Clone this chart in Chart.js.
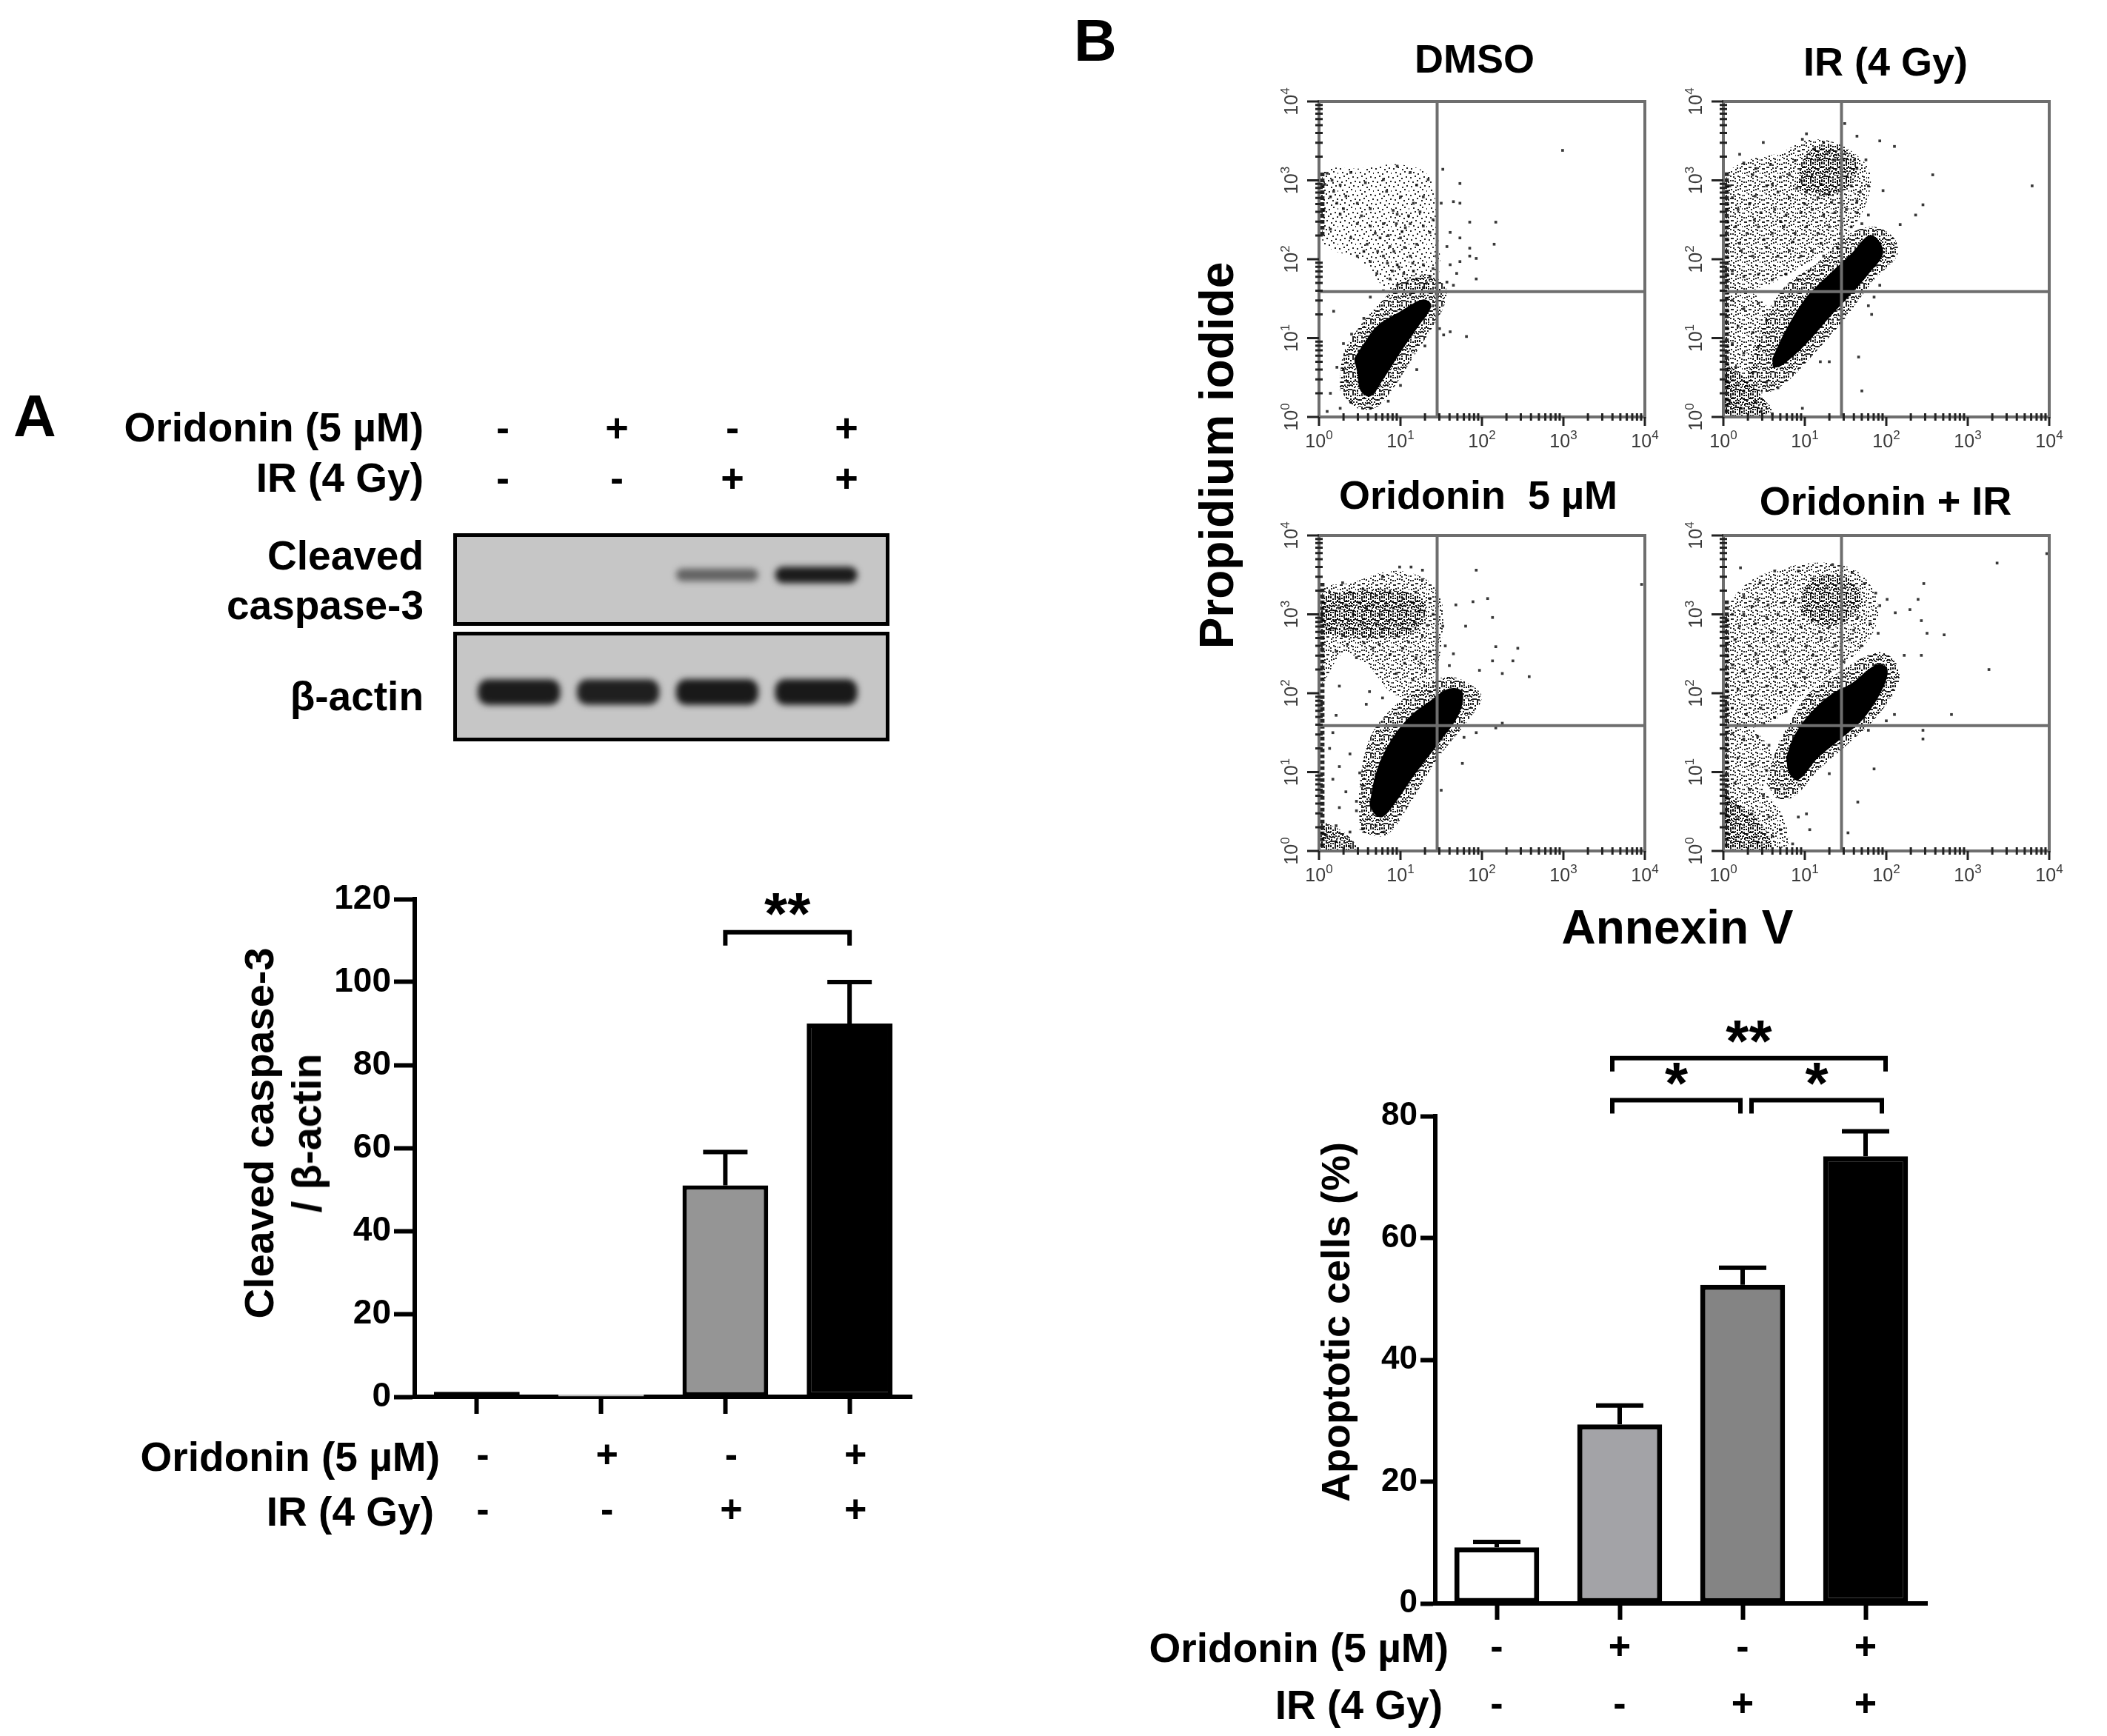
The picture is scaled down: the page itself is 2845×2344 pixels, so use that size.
<!DOCTYPE html>
<html>
<head>
<meta charset="utf-8">
<script src="https://cdn.jsdelivr.net/npm/chart.js@4.4.0/dist/chart.umd.min.js"></script>
<style>
html, body { margin: 0; padding: 0; background: #fff; }
#page { position: relative; width: 2845px; height: 2344px; overflow: hidden;
        font-family: "Liberation Sans", Arial, sans-serif; font-weight: bold; color: #000; }
.t { position: absolute; white-space: pre; line-height: 1; }
canvas { position: absolute; }
</style>
</head>
<body>
<div id="page"></div>
<script>
// ---------- data: panel A ----------
const treatments = ['DMSO', 'Oridonin', 'IR', 'Oridonin + IR'];
const oridoninSigns = ['-', '+', '-', '+'];
const irSigns = ['-', '-', '+', '+'];
const caspaseRatio = [1.2, 0.6, 51, 90];
const caspaseSem = [0, 0, 8, 10];
const caspaseTicks = [0, 20, 40, 60, 80, 100, 120];
const caspaseSig = [{ from: 2, to: 3, at: 112, mark: '**' }];
const caspaseBand = [0, 0, 0.55, 0.95];
const actinBand = [0.95, 0.93, 0.96, 0.96];

// ---------- data: panel B ----------
const apoptoticPct = [9.2, 29.4, 52.3, 73.4];
const apoptoticSem = [0.9, 3.1, 2.8, 4.1];
const apoptoticTicks = [0, 20, 40, 60, 80];
const apoptoticSig = [
  { from: 1, to: 3, at: 89.5, mark: '**' },
  { from: 1, to: 2, at: 82.6, mark: '*' },
  { from: 2, to: 3, at: 82.6, mark: '*' }
];

// flow plots, values in log10 decades (Annexin V, PI)
const flowDecades = [0, 1, 2, 3, 4];
const gateAnnexin = 1.45;
const gatePI = 1.59;

const dmsoCore = [[0.43,0.74],[0.47,0.56],[0.51,0.33],[0.63,0.26],[0.79,0.48],[1.0,0.82],[1.2,1.12],[1.38,1.41],[1.28,1.49],[1.0,1.34],[0.71,1.15],[0.55,0.93]];
const dmsoHalo = [[0.25,0.35],[0.3,0.8],[0.5,1.15],[0.8,1.5],[1.05,1.75],[1.35,1.8],[1.55,1.65],[1.55,1.45],[1.4,1.15],[1.15,0.75],[0.9,0.35],[0.7,0.12],[0.45,0.12]];
const dmsoCloud = [[0.04,2.2],[0.05,3.1],[0.5,3.15],[1.0,3.2],[1.35,3.05],[1.45,2.4],[1.45,1.75],[1.1,1.55],[0.8,1.65],[0.5,2.0],[0.2,2.1]];
const dmsoStrip = [[0.04,2.3],[0.04,3.1]];
const dmsoDots = [[0.10,3.09],[0.16,3.00],[0.26,2.94],[0.39,3.10],[0.14,2.79],[0.22,2.71],[0.30,2.64],[0.47,2.71],[0.57,2.97],[0.79,3.01],[0.96,3.18],[1.12,3.10],[1.20,2.94],[1.34,3.01],[0.83,2.86],[1.00,2.79],[1.16,2.71],[1.28,2.79],[0.63,2.64],[0.26,2.57],[0.47,2.45],[0.63,2.42],[0.79,2.45],[0.96,2.57],[1.12,2.45],[1.28,2.42],[0.14,2.38],[0.39,2.27],[0.59,2.19],[0.75,2.27],[0.87,2.16],[1.00,2.27],[1.20,2.19],[1.36,2.34],[0.47,2.04],[0.63,1.97],[0.79,2.04],[0.96,1.93],[1.12,2.04],[1.28,1.93],[1.44,2.04],[0.71,1.82],[0.87,1.75],[1.04,1.82],[1.20,1.75],[1.36,1.78],[0.79,1.60],[0.96,1.67],[1.12,1.56],[1.28,1.64],[1.44,1.56],[0.63,1.52],[0.18,1.34],[0.30,0.93],[0.22,0.63],[0.14,0.30],[0.26,0.11],[0.10,0.07],[0.39,0.19],[0.63,0.11],
  [1.52,3.14],[1.73,2.96],[1.50,2.71],[1.65,2.73],[1.73,2.71],[1.85,2.47],[2.17,2.47],[1.61,2.34],[1.73,2.27],[1.85,2.14],[2.15,2.19],[1.57,2.16],[1.61,1.93],[1.73,1.97],[1.85,2.04],[1.93,2.01],[1.93,1.75],[1.69,1.82],[1.57,1.71],[1.65,1.67],[2.99,3.38],[1.81,1.02],[1.61,1.08],[1.48,1.12],[1.53,1.04],
  [0.92,2.10],[1.05,2.15],[0.98,1.90],[1.08,1.70],[0.90,1.85],[1.02,2.35],[0.85,2.30],[1.15,1.95],[0.95,2.45],[1.10,2.55],[0.35,0.45],[0.30,0.60],[0.40,1.05],[0.55,1.25],[1.30,0.90],[1.20,0.60],[1.00,0.40],[0.85,0.20],
  [0.07,2.95],[0.06,2.62],[0.18,2.86],[0.33,2.80],[0.52,2.55],[0.69,2.33],[0.91,2.62],[1.06,2.40],[1.24,2.60],[1.40,2.50],[0.55,2.10],[0.72,2.10],[0.84,1.95],[1.16,1.85],[1.32,1.70],[1.40,1.88]];

const irCore = [[0.60,0.74],[0.77,1.11],[1.02,1.52],[1.30,1.81],[1.57,2.07],[1.78,2.30],[1.89,2.26],[1.96,2.07],[1.78,1.81],[1.57,1.56],[1.30,1.26],[1.02,0.93],[0.74,0.67],[0.62,0.63]];
const irHalo = [[0.25,0.37],[0.36,0.74],[0.53,1.30],[0.77,1.67],[1.16,1.96],[1.51,2.30],[1.85,2.41],[2.10,2.26],[2.13,2.04],[1.85,1.74],[1.47,1.22],[1.12,0.81],[0.77,0.44],[0.49,0.30]];
const irCloud = [[0.04,1.65],[0.04,3.05],[0.3,3.25],[0.7,3.35],[1.0,3.5],[1.3,3.5],[1.6,3.35],[1.8,3.1],[1.75,2.7],[1.5,2.3],[1.1,2.0],[0.7,1.75],[0.3,1.6]];
const irLowCloud = [[0.04,0.02],[0.04,1.6],[0.3,1.6],[0.55,1.35],[0.45,0.8],[0.35,0.4],[0.6,0.1],[0.5,0.02]];
const irDense = [[0.9,2.9],[1.0,3.3],[1.3,3.45],[1.6,3.3],[1.6,3.0],[1.3,2.8]];
const irCorner = [[0.02,0.02],[0.02,0.65],[0.2,0.55],[0.4,0.35],[0.55,0.12],[0.5,0.02]];
const irStrip = [[0.04,0.05],[0.04,3.1]];
const irDots = [[1.02,3.59],[0.97,3.52],[1.23,3.48],[1.30,3.37],[1.47,3.26],[1.37,3.26],[1.16,3.26],[0.70,3.04],[0.81,3.07],[0.95,3.00],[1.09,3.07],[1.30,3.15],[1.44,3.15],[1.61,3.26],[1.64,3.15],[1.75,3.26],[0.20,3.33],[0.25,3.22],[0.36,3.07],[0.49,3.48],[0.53,2.93],[0.67,2.85],[0.81,2.78],[1.02,2.85],[1.16,2.78],[1.30,2.85],[1.44,2.89],[1.57,2.93],[0.08,2.93],[0.11,2.78],[0.18,2.63],[0.32,2.70],[0.46,2.59],[0.63,2.63],[0.77,2.56],[0.95,2.59],[1.09,2.63],[1.23,2.56],[1.37,2.59],[1.51,2.63],[1.64,2.59],[1.78,2.56],[0.15,2.41],[0.29,2.33],[0.43,2.41],[0.60,2.33],[0.74,2.41],[0.88,2.33],[1.02,2.41],[1.16,2.33],[1.30,2.41],[1.44,2.33],[1.57,2.41],[0.22,2.11],[0.36,2.04],[0.53,2.15],[0.67,2.04],[0.81,2.11],[0.95,2.04],[1.09,2.11],[1.23,2.04],[0.11,1.85],[0.25,1.78],[0.43,1.81],[0.60,1.74],[0.77,1.81],[0.91,1.74],[1.05,1.85],
  [0.11,1.48],[0.25,1.37],[0.43,1.44],[0.18,1.15],[0.36,1.07],[0.53,1.22],[0.11,0.93],[0.25,0.81],[0.43,0.89],[0.15,0.63],[0.36,0.56],[0.53,0.44],[0.67,0.37],[0.25,0.33],[0.08,0.19],[0.22,0.11],[0.39,0.19],[0.46,0.07],[0.60,0.04],
  [1.49,3.72],[1.64,3.56],[1.92,3.50],[2.10,3.43],[2.57,3.07],[3.79,2.93],[2.45,2.69],[2.36,2.56],[2.17,2.44],[1.96,2.87],[1.78,2.93],[1.64,2.74],[1.92,1.67],[1.85,1.52],[1.82,1.30],[1.78,1.41],[1.66,0.76],[1.70,0.33],[1.30,0.70],[1.19,0.70],[0.97,0.11],
  [0.40,3.15],[0.58,3.20],[0.88,3.25],[1.12,3.40],[1.52,3.05],[0.39,2.80],[0.60,2.95],[0.90,2.90],[1.20,2.95],[1.68,2.85],[0.38,2.50],[0.70,2.48],[1.00,2.70],[1.33,2.72],[1.70,2.45],[0.20,2.20],[0.50,2.25],[0.85,2.22],[1.20,2.20],[1.40,2.15]];

const oriCore = [[0.62,0.59],[0.70,0.99],[0.87,1.38],[1.11,1.70],[1.36,1.90],[1.60,2.06],[1.76,2.02],[1.72,1.74],[1.48,1.38],[1.19,0.99],[0.95,0.63],[0.78,0.43],[0.68,0.47]];
const oriHalo = [[0.50,0.24],[0.50,0.83],[0.62,1.42],[0.87,1.78],[1.27,2.09],[1.60,2.21],[1.89,2.09],[2.0,1.94],[1.8,1.62],[1.44,1.15],[1.11,0.59],[0.82,0.20]];
const oriCloud = [[0.04,2.1],[0.04,3.3],[0.4,3.4],[0.9,3.55],[1.3,3.45],[1.5,3.2],[1.5,2.6],[1.4,2.2],[1.2,1.95],[0.9,2.0],[0.6,2.35],[0.3,2.5]];
const oriDense = [[0.05,2.75],[0.05,3.2],[0.5,3.3],[1.0,3.3],[1.3,3.15],[1.2,2.8],[0.7,2.7]];
const oriCorner = [[0.02,0.02],[0.02,0.35],[0.2,0.3],[0.4,0.15],[0.45,0.02]];
const oriStrip = [[0.04,0.05],[0.04,3.4]];
const oriDots = [[0.13,3.28],[0.25,3.20],[0.38,3.28],[0.54,3.32],[0.70,3.24],[0.87,3.28],[1.03,3.20],[1.19,3.28],[1.36,3.20],[0.09,3.04],[0.25,3.08],[0.42,3.00],[0.58,3.08],[0.74,3.00],[0.91,3.08],[1.07,3.00],[1.23,3.04],[1.40,3.00],[0.13,2.81],[0.29,2.73],[0.46,2.81],[0.62,2.73],[0.78,2.81],[0.95,2.73],[1.11,2.81],[1.27,2.73],[0.21,2.53],[0.46,2.45],[0.66,2.57],[0.87,2.49],[1.03,2.57],[1.19,2.45],[1.36,2.53],[0.95,2.25],[1.15,2.17],[1.31,2.29],[1.44,2.41],[0.99,3.60],[1.13,3.60],[1.27,3.44],[0.78,3.48],[0.29,3.40],[0.62,2.02],[0.25,2.09],[0.21,1.72],[0.58,1.86],[0.78,1.94],[1.36,2.02],
  [0.17,1.50],[0.13,1.30],[0.25,1.07],[0.38,1.23],[0.17,0.91],[0.33,0.75],[0.50,0.99],[0.25,0.55],[0.46,0.51],[0.21,0.32],[0.38,0.24],[0.54,0.28],[0.70,0.32],[0.80,0.24],[0.09,0.20],[0.21,0.12],[0.38,0.06],[0.46,0.63],[0.54,0.83],
  [1.93,3.56],[1.27,3.56],[2.07,3.20],[2.13,2.96],[1.89,3.16],[1.68,3.12],[1.80,2.85],[2.17,2.59],[2.44,2.57],[2.38,2.41],[2.25,2.25],[2.58,2.21],[2.13,2.41],[1.97,2.29],[2.25,1.62],[2.17,1.56],[1.93,1.50],[1.78,1.44],[1.76,1.11],[1.50,0.77],[3.96,3.38],[1.55,2.60],[1.60,2.35],[1.52,2.85],[1.65,2.50],
  [0.33,3.12],[0.50,3.15],[0.66,3.12],[0.82,3.14],[1.00,3.12],[1.15,3.15],[0.20,2.92],[0.36,2.92],[0.54,2.90],[0.70,2.88],[0.86,2.92],[1.02,2.88],[1.18,2.90],[1.33,2.86],[0.35,2.62],[0.55,2.64],[0.74,2.62],[1.10,2.65],[1.25,2.38],[1.05,2.38]];

const oirCore = [[0.77,1.18],[0.85,1.42],[1.02,1.69],[1.30,1.97],[1.58,2.13],[1.87,2.36],[2.01,2.32],[1.97,2.09],[1.73,1.69],[1.44,1.42],[1.16,1.18],[0.92,0.90],[0.81,0.98]];
const oirHalo = [[0.53,0.86],[0.67,1.34],[0.85,1.69],[1.02,1.97],[1.44,2.28],[1.90,2.52],[2.11,2.40],[2.15,2.13],[1.87,1.69],[1.51,1.34],[1.16,1.02],[0.88,0.70],[0.67,0.66]];
const oirCloud = [[0.04,1.6],[0.04,3.0],[0.3,3.4],[0.8,3.6],[1.3,3.65],[1.7,3.5],[1.9,3.1],[1.8,2.7],[1.4,2.3],[1.0,2.0],[0.7,1.7],[0.3,1.55]];
const oirLowCloud = [[0.04,0.02],[0.04,1.6],[0.35,1.55],[0.6,1.2],[0.5,0.8],[0.7,0.5],[0.8,0.1],[0.6,0.02]];
const oirDense = [[0.95,3.0],[1.0,3.35],[1.25,3.5],[1.55,3.45],[1.7,3.2],[1.55,2.95],[1.25,2.85]];
const oirCorner = [[0.02,0.02],[0.02,0.7],[0.25,0.55],[0.5,0.3],[0.6,0.05],[0.55,0.02]];
const oirStrip = [[0.04,0.05],[0.04,3.2]];
const oirDots = [[0.21,3.59],[0.63,3.55],[0.92,3.55],[1.34,3.63],[1.58,3.53],[1.73,3.39],[1.87,3.27],[0.25,3.23],[0.42,3.19],[0.60,3.31],[0.74,3.15],[0.11,3.00],[0.25,3.00],[0.39,2.88],[0.53,2.96],[0.67,3.00],[0.81,2.92],[0.95,2.84],[1.09,2.92],[1.30,2.84],[1.48,2.92],[1.65,2.96],[1.80,2.88],[1.90,2.76],[0.14,2.68],[0.32,2.60],[0.49,2.68],[0.67,2.60],[0.85,2.68],[1.02,2.60],[1.20,2.68],[1.37,2.60],[1.55,2.68],[1.69,2.60],[0.11,2.36],[0.25,2.28],[0.42,2.40],[0.60,2.32],[0.77,2.40],[0.95,2.28],[1.13,2.36],[1.30,2.28],[1.48,2.40],[0.18,2.05],[0.35,1.97],[0.53,2.09],[0.70,2.01],[0.88,2.09],[1.06,1.97],[0.11,1.81],[0.28,1.73],[0.46,1.81],[0.63,1.69],[0.77,1.77],
  [0.11,1.49],[0.25,1.42],[0.42,1.45],[0.56,1.34],[0.18,1.18],[0.35,1.10],[0.53,1.02],[0.14,0.86],[0.32,0.78],[0.49,0.70],[0.67,0.78],[0.18,0.55],[0.35,0.47],[0.56,0.43],[0.70,0.27],[0.60,0.19],[0.42,0.11],[0.92,0.43],[1.02,0.47],[1.06,0.27],[0.85,0.09],
  [3.36,3.65],[3.97,3.77],[2.46,3.39],[2.39,3.19],[2.71,2.74],[2.50,2.76],[2.43,2.92],[2.29,3.06],[2.11,3.02],[1.92,3.11],[2.01,3.19],[2.43,2.48],[2.22,2.48],[3.26,2.30],[2.80,1.73],[2.10,1.73],[2.00,1.65],[2.45,1.53],[2.45,1.42],[1.78,1.53],[1.85,1.04],[1.65,0.62],[1.53,0.23],[1.30,0.98],
  [0.45,3.40],[0.78,3.40],[1.10,3.45],[0.35,3.10],[0.55,3.12],[0.88,3.18],[0.20,2.85],[0.60,2.78],[1.18,2.78],[1.60,2.80],[0.40,2.50],[0.75,2.52],[1.10,2.48],[1.45,2.55],[0.30,2.15],[0.65,2.20],[1.00,2.20],[0.20,1.60],[0.50,1.60]];

// ---------- helpers ----------
Chart.defaults.font.family = '"Liberation Sans", Arial, sans-serif';
Chart.defaults.color = '#000';
const FONT = '"Liberation Sans", Arial, sans-serif';
const page = document.getElementById('page');

function txt(s, x, y, size, how) {
  const d = document.createElement('div');
  d.className = 't';
  d.textContent = s;
  d.style.left = x + 'px';
  d.style.top = y + 'px';
  d.style.fontSize = size + 'px';
  if (how === 'right') d.style.transform = 'translate(-100%,-50%)';
  else if (how === 'rot') d.style.transform = 'translate(-50%,-50%) rotate(-90deg)';
  else d.style.transform = 'translate(-50%,-50%)';
  page.appendChild(d);
}

function makeCanvas(left, top, w, h) {
  const c = document.createElement('canvas');
  c.width = w; c.height = h;
  c.style.left = left + 'px'; c.style.top = top + 'px';
  c.style.width = w + 'px'; c.style.height = h + 'px';
  page.appendChild(c);
  return c;
}

const toXY = pts => pts.map(([x, y]) => ({ x, y }));

// speckle fill so the event clouds look like dot clouds rather than flat grey
const speckTile = [[1,2],[7,0],[13,3],[19,1],[4,8],[10,6],[16,9],[22,7],[2,14],[8,12],[14,15],[20,13],[5,19],[11,21],[17,18],[23,20]];
const speckShift = [[0,0],[12,5],[5,12],[17,17],[9,3],[3,9]];
function speckle(level) {
  const t = document.createElement('canvas');
  t.width = 24; t.height = 24;
  const g = t.getContext('2d');
  g.fillStyle = 'rgba(0,0,0,0.85)';
  for (let k = 0; k < level; k++) {
    const [ox, oy] = speckShift[k];
    speckTile.forEach(([x, y]) => g.fillRect((x + ox) % 24, (y + oy) % 24, 2, 2));
  }
  return g.createPattern(t, 'repeat');
}

// ---------- plugins ----------
const errorBars = {
  id: 'errorBars',
  afterDatasetsDraw(chart, args, o) {
    const { ctx, scales: { x, y } } = chart;
    const meta = chart.getDatasetMeta(0);
    ctx.save();
    ctx.strokeStyle = '#000';
    ctx.lineWidth = o.width;
    o.sem.forEach((e, i) => {
      if (!e) return;
      const bx = meta.data[i].x;
      const y0 = y.getPixelForValue(o.values[i]);
      const y1 = y.getPixelForValue(o.values[i] + e);
      ctx.beginPath();
      ctx.moveTo(bx, y0); ctx.lineTo(bx, y1);
      ctx.moveTo(bx - o.cap / 2, y1); ctx.lineTo(bx + o.cap / 2, y1);
      ctx.stroke();
    });
    ctx.fillStyle = '#000';
    ctx.textAlign = 'center';
    ctx.textBaseline = 'alphabetic';
    ctx.font = 'bold 80px ' + FONT;
    o.sig.forEach((b, i) => {
      const pad = o.pads[i] || [0, 0];
      const x1 = x.getPixelForValue(b.from) + pad[0];
      const x2 = x.getPixelForValue(b.to) + pad[1];
      const yy = y.getPixelForValue(b.at);
      ctx.beginPath();
      ctx.moveTo(x1, yy + o.leg); ctx.lineTo(x1, yy); ctx.lineTo(x2, yy); ctx.lineTo(x2, yy + o.leg);
      ctx.stroke();
      ctx.fillText(b.mark, (x1 + x2) / 2, yy + o.markDy);
    });
    ctx.restore();
  }
};

function barChart(canvas, c) {
  return new Chart(canvas, {
    type: 'bar',
    data: {
      labels: oridoninSigns.map((s, i) => [s, irSigns[i]]),
      datasets: [{
        data: c.values,
        backgroundColor: c.fill,
        borderColor: c.stroke,
        borderWidth: c.bw,
        borderSkipped: false,
        barPercentage: 0.69,
        categoryPercentage: 1
      }]
    },
    options: {
      responsive: false, animation: false, devicePixelRatio: 1,
      layout: { padding: c.padding },
      plugins: {
        legend: { display: false }, tooltip: { enabled: false },
        errorBars: { values: c.values, sem: c.sem, sig: c.sig, pads: c.pads, cap: c.cap, width: 6, leg: 18, markDy: c.markDy }
      },
      scales: {
        x: {
          grid: { display: true, drawOnChartArea: false, offset: false, tickLength: c.xTick, tickWidth: 6, tickColor: '#000' },
          border: { display: true, width: 6, color: '#000' },
          ticks: { autoSkip: false, maxRotation: 0, minRotation: 0, color: '#000', padding: c.xPad, labelOffset: c.labelOffset,
                   font: { size: 52, weight: 'bold', lineHeight: c.lineH } },
          afterFit: s => { s.height = c.xHeight; }
        },
        y: {
          min: 0, max: c.ticks[c.ticks.length - 1],
          afterBuildTicks: s => { s.ticks = c.ticks.map(v => ({ value: v })); },
          grid: { display: true, drawOnChartArea: false, tickLength: c.yTick, tickWidth: 6, tickColor: '#000' },
          border: { display: true, width: 6, color: '#000' },
          ticks: { color: '#000', padding: 4, font: { size: c.tickSize, weight: 'bold' } },
          afterFit: s => { s.width = c.yWidth; }
        }
      }
    },
    plugins: [errorBars]
  });
}

const blotLook = {
  id: 'blotLook',
  beforeDraw(chart) {
    const { ctx, width, height } = chart;
    ctx.save(); ctx.fillStyle = '#c6c6c6'; ctx.fillRect(0, 0, width, height); ctx.restore();
  },
  beforeDatasetsDraw(chart) { chart.ctx.save(); chart.ctx.filter = 'blur(4px)'; },
  afterDatasetsDraw(chart) {
    chart.ctx.restore();
    const { ctx, width, height } = chart;
    ctx.save(); ctx.lineWidth = 5; ctx.strokeStyle = '#000';
    ctx.strokeRect(2.5, 2.5, width - 5, height - 5); ctx.restore();
  }
};

function blotChart(canvas, bands, centre, h0, h1) {
  return new Chart(canvas, {
    type: 'bar',
    data: {
      labels: treatments,
      datasets: [{
        data: bands.map(v => v > 0 ? [centre - (h0 + h1 * v), centre + (h0 + h1 * v)] : null),
        backgroundColor: bands.map(v => { const g = Math.round(198 - 180 * v); return `rgb(${g},${g},${g})`; }),
        borderWidth: 0, borderRadius: 14, borderSkipped: false,
        barPercentage: 0.83, categoryPercentage: 1
      }]
    },
    options: {
      responsive: false, animation: false, devicePixelRatio: 1,
      layout: { padding: { left: 22, right: 32, top: 0, bottom: 0 } },
      plugins: { legend: { display: false }, tooltip: { enabled: false } },
      scales: { x: { display: false }, y: { display: false, min: 0, max: 1, reverse: true } }
    },
    plugins: [blotLook]
  });
}

function drawPow(ctx, cx, cy, exp) {
  ctx.font = '25px ' + FONT;
  const bw = ctx.measureText('10').width;
  ctx.font = '17px ' + FONT;
  const ew = ctx.measureText(exp).width;
  const x0 = cx - (bw + ew) / 2;
  ctx.textAlign = 'left'; ctx.textBaseline = 'middle';
  ctx.font = '25px ' + FONT;
  ctx.fillText('10', x0, cy);
  ctx.font = '17px ' + FONT;
  ctx.fillText(exp, x0 + bw, cy - 9);
}

const flowAxes = {
  id: 'flowAxes',
  afterDatasetsDraw(chart) {
    const { ctx, chartArea: a, scales: { x, y } } = chart;
    ctx.save();
    ctx.strokeStyle = '#6e6e6e'; ctx.lineWidth = 4;
    const gx = x.getPixelForValue(gateAnnexin), gy = y.getPixelForValue(gatePI);
    ctx.beginPath();
    ctx.moveTo(gx, a.top); ctx.lineTo(gx, a.bottom);
    ctx.moveTo(a.left, gy); ctx.lineTo(a.right, gy);
    ctx.stroke();
    ctx.strokeRect(a.left, a.top, a.right - a.left, a.bottom - a.top);
    ctx.strokeStyle = '#222'; ctx.lineWidth = 3;
    flowDecades.forEach(d => {
      for (let k = 1; k < 10; k++) {
        const v = d + Math.log10(k);
        if (v > 4) break;
        const major = k === 1;
        const px = x.getPixelForValue(v), py = y.getPixelForValue(v);
        ctx.beginPath();
        ctx.moveTo(px, a.bottom - (major ? 0 : 5)); ctx.lineTo(px, a.bottom + (major ? 12 : 5));
        ctx.moveTo(a.left + (major ? 0 : 5), py); ctx.lineTo(a.left - (major ? 16 : 5), py);
        ctx.stroke();
      }
    });
    ctx.fillStyle = '#3a3a3a';
    flowDecades.forEach(d => {
      drawPow(ctx, x.getPixelForValue(d), a.bottom + 34, String(d));
      ctx.save();
      ctx.translate(a.left - 36, y.getPixelForValue(d));
      ctx.rotate(-Math.PI / 2);
      drawPow(ctx, 0, 0, String(d));
      ctx.restore();
    });
    ctx.restore();
  }
};

function flowChart(left, top, s) {
  const c = makeCanvas(left - 70, top - 20, 540, 501);
  const poly = (pts, fillStyle, order) => ({
    type: 'line', data: toXY(pts.concat([pts[0]])), fill: 'shape', backgroundColor: fillStyle,
    borderWidth: 0, pointRadius: 0, tension: 0.35, order
  });
  const datasets = [
    { type: 'scatter', data: toXY(s.dots), pointStyle: 'rect', pointRadius: 2.6,
      backgroundColor: 'rgba(0,0,0,0.78)', borderWidth: 0, order: 0 },
    { type: 'line', data: toXY(s.strip), borderColor: 'rgba(0,0,0,0.85)', borderWidth: 6,
      borderDash: [5, 3], pointRadius: 0, fill: false, order: 1 },
    poly(s.core, '#000', 2),
    ...s.dense.map(p => poly(p, speckle(5), 3)),
    ...s.corner.map(p => poly(p, speckle(5), 3)),
    poly(s.halo, speckle(4), 4),
    ...s.clouds.map(p => poly(p, speckle(s.cloudLevel), 5))
  ];
  return new Chart(c, {
    type: 'scatter',
    data: { datasets },
    options: {
      responsive: false, animation: false, devicePixelRatio: 1,
      layout: { padding: { left: 70, right: 30, top: 20, bottom: 55 } },
      plugins: { legend: { display: false }, tooltip: { enabled: false } },
      scales: {
        x: { type: 'linear', min: 0, max: 4, display: false },
        y: { type: 'linear', min: 0, max: 4, display: false }
      }
    },
    plugins: [flowAxes]
  });
}

// ---------- panel A ----------
txt('A', 47, 562, 80);
txt('Oridonin (5 µM)', 572, 577, 55, 'right');
txt('IR (4 Gy)', 572, 645, 55, 'right');
const topSignX = [679, 833, 989, 1143];
oridoninSigns.forEach((s, i) => txt(s, topSignX[i], 577, 54));
irSigns.forEach((s, i) => txt(s, topSignX[i], 645, 54));
txt('Cleaved', 572, 750, 55, 'right');
txt('caspase-3', 572, 817, 55, 'right');
txt('β-actin', 572, 940, 55, 'right');
blotChart(makeCanvas(612, 720, 589, 125), caspaseBand, 0.45, 0.04, 0.05);
blotChart(makeCanvas(612, 853, 589, 148), actinBand, 0.55, 0.05, 0.07);

barChart(makeCanvas(393, 1150, 860, 960), {
  values: caspaseRatio, sem: caspaseSem, sig: caspaseSig, pads: [[0, 0]], ticks: caspaseTicks,
  fill: ['#ffffff', '#dddddd', '#959595', '#000000'], stroke: ['#000', '#bbbbbb', '#000', '#000'], bw: 6,
  padding: { top: 64, right: 22 }, yWidth: 167, xHeight: 224, xTick: 23, yTick: 28, xPad: 21,
  lineH: 1.42, labelOffset: 8, tickSize: 46, cap: 60, markDy: 2
});
txt('Cleaved caspase-3', 350, 1530, 56, 'rot');
txt('/ β-actin', 414, 1530, 56, 'rot');
txt('Oridonin (5 µM)', 594, 1967, 55, 'right');
txt('IR (4 Gy)', 586, 2041, 55, 'right');

// ---------- panel B ----------
txt('B', 1479, 55, 80);
txt('DMSO', 1991, 79, 54);
txt('IR (4 Gy)', 2546, 83, 54);
txt('Oridonin  5 µM', 1996, 668, 54);
txt('Oridonin + IR', 2546, 676, 54);
txt('Propidium iodide', 1643, 615, 64, 'rot');
txt('Annexin V', 2265, 1252, 64);

flowChart(1781, 137, { core: dmsoCore, halo: dmsoHalo, clouds: [dmsoCloud], cloudLevel: 1, dense: [], corner: [], dots: dmsoDots, strip: dmsoStrip });
flowChart(2327, 137, { core: irCore, halo: irHalo, clouds: [irCloud, irLowCloud], cloudLevel: 2, dense: [irDense], corner: [irCorner], dots: irDots, strip: irStrip });
flowChart(1781, 723, { core: oriCore, halo: oriHalo, clouds: [oriCloud], cloudLevel: 2, dense: [oriDense], corner: [oriCorner], dots: oriDots, strip: oriStrip });
flowChart(2327, 723, { core: oirCore, halo: oirHalo, clouds: [oirCloud, oirLowCloud], cloudLevel: 2, dense: [oirDense], corner: [oirCorner], dots: oirDots, strip: oirStrip });

barChart(makeCanvas(1760, 1340, 870, 1004), {
  values: apoptoticPct, sem: apoptoticSem, sig: apoptoticSig, pads: [[-10, 27], [-10, -3], [12, 22]], ticks: apoptoticTicks,
  fill: ['#ffffff', '#a3a3a7', '#848484', '#000000'], stroke: '#000', bw: 7,
  padding: { top: 167, right: 28 }, yWidth: 178, xHeight: 179, xTick: 22, yTick: 20, xPad: 0,
  lineH: 1.48, labelOffset: 0, tickSize: 44, cap: 64, markDy: 4
});
txt('Apoptotic cells (%)', 1803, 1785, 54, 'rot');
txt('Oridonin (5 µM)', 1956, 2225, 55, 'right');
txt('IR (4 Gy)', 1948, 2302, 55, 'right');
</script>
</body>
</html>
